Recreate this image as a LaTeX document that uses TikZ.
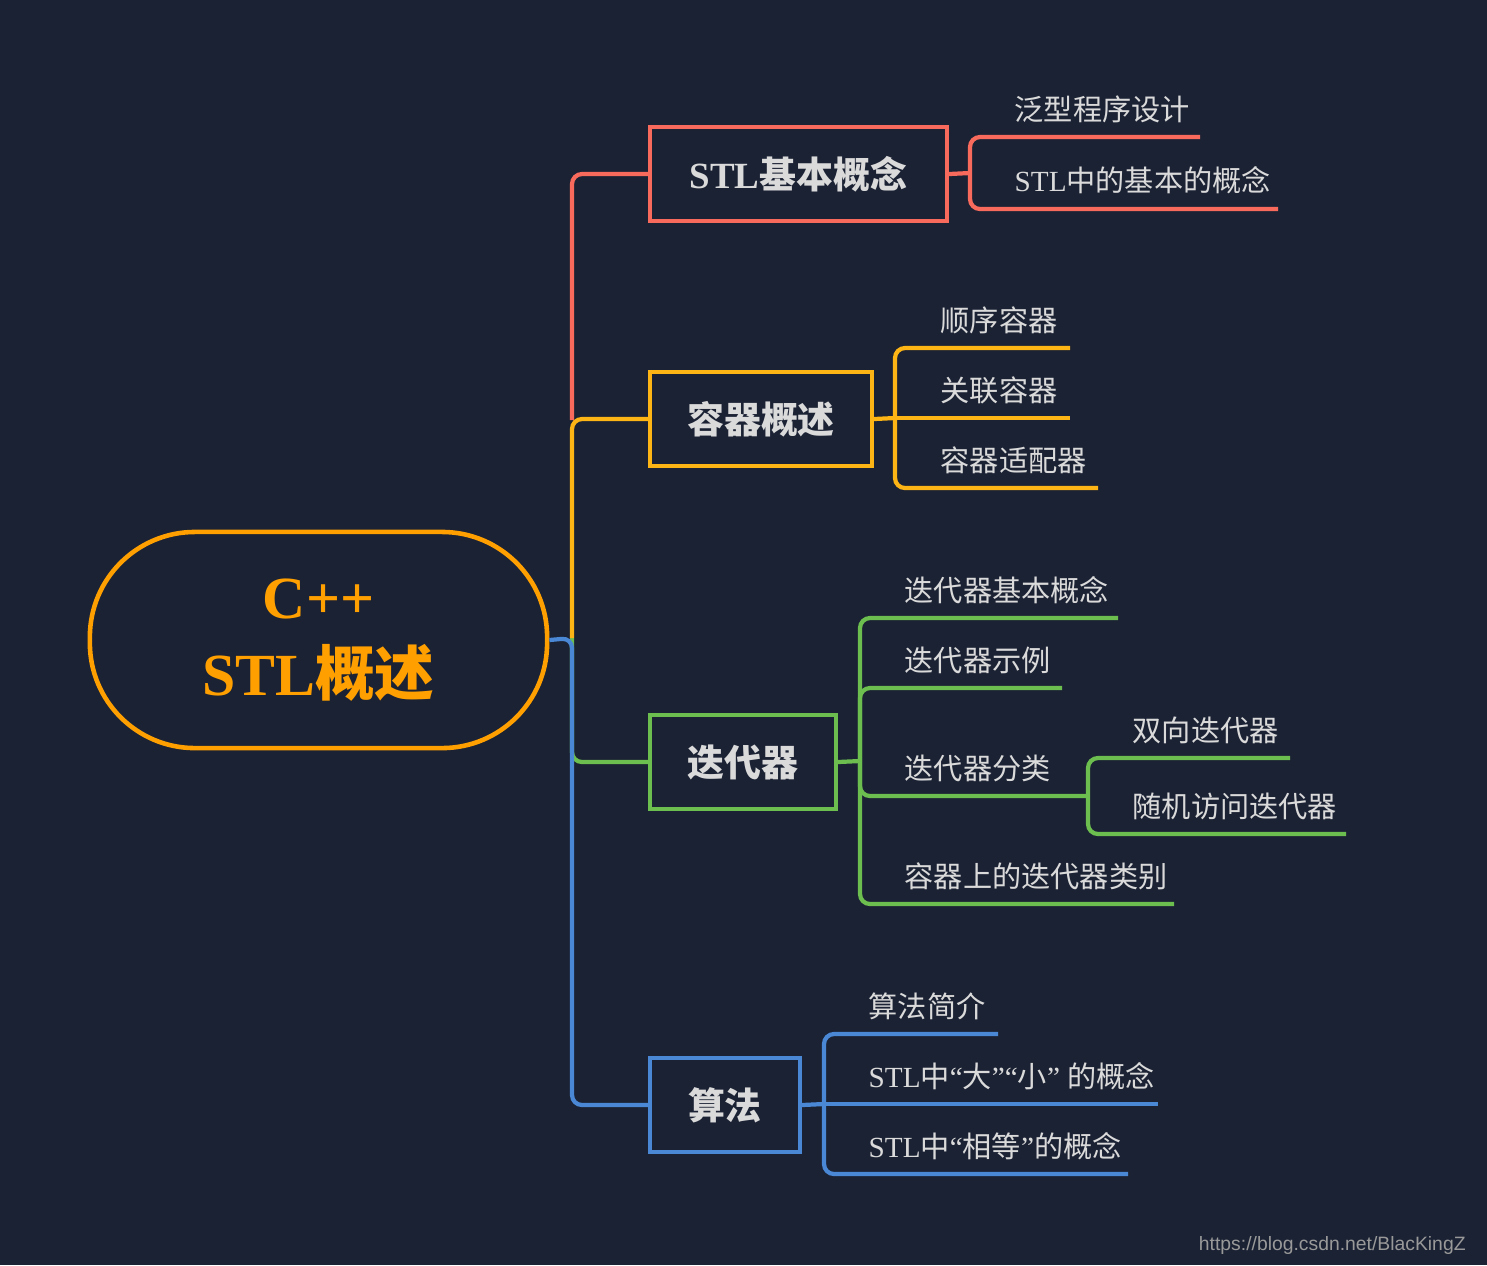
\documentclass[tikz,border=0pt]{standalone}
\usepackage{fontspec}
\setmainfont{Liberation Serif}
\newfontfamily\cjk{Noto Sans CJK SC}
\newfontfamily\marksans{Liberation Sans}
\newcommand{\zh}[1]{{\cjk #1}}
\usetikzlibrary{positioning}
\definecolor{bgc}{HTML}{1B2234}
\definecolor{redc}{HTML}{F76A5C}
\definecolor{yelc}{HTML}{FDB515}
\definecolor{grnc}{HTML}{6CBE4F}
\definecolor{bluc}{HTML}{4A88D6}
\definecolor{orgc}{HTML}{FFA000}
\definecolor{txtc}{HTML}{DADADA}
\tikzset{
  root/.style={draw=orgc, line width=1.3pt, rounded corners=1.05cm, minimum width=4.57cm, minimum height=2.16cm, align=center, text=orgc, font=\fontsize{17}{22}\selectfont\bfseries},
  topic/.style={draw=#1, line width=1.1pt, minimum height=0.94cm, anchor=west, text=txtc, font=\fontsize{10.5}{13}\selectfont\bfseries},
  leaf/.style={anchor=base west, inner sep=0pt, text=txtc, font=\fontsize{8.3}{10}\selectfont},
  link/.style={draw=#1, line width=1.2pt, rounded corners=0.1cm},
}
\begin{document}
\begin{tikzpicture}[x=0.01cm, y=-0.01cm]
  \fill[bgc] (0,0) rectangle (1487,1265);
  \useasboundingbox (0,0) rectangle (1487,1265);
  %Root
  \node[root] (root) at (318.5,640) {C++\\STL\zh{概述}};
  \coordinate (hub) at (572,638);
  %Topics
  \node[topic=redc, minimum width=2.97cm] (basic) at (648,174) {STL\zh{基本概念}};
  \node[topic=yelc, minimum width=2.22cm] (cont) at (648,419) {\zh{容器概述}};
  \node[topic=grnc, minimum width=1.86cm] (iter) at (648,762) {\zh{迭代器}};
  \node[topic=bluc, minimum width=1.50cm] (algo) at (648,1105) {\zh{算法}};
  %Trunk
  \draw[link=grnc] (hub) |- (iter.west);
  \draw[link=bluc] (root.east) -- (hub) |- (algo.west);
  \draw[link=yelc] (hub) |- (cont.west);
  \draw[link=redc] (572,420) |- (basic.west);
  %Basic concepts
  \coordinate (hr) at (970,173);
  \draw[link=redc] (basic.east) -- (hr);
  \coordinate (r1) at (1200,137);
  \coordinate (r2) at (1278,209);
  \draw[link=redc] (hr) |- (r1);
  \draw[link=redc] (hr) |- (r2);
  \node[leaf] (t11) at (1014,120) {\zh{泛型程序设计}};
  \node[leaf] (t12) at (1014,191) {STL\zh{中的基本的概念}};
  %Containers
  \coordinate (hy) at (895,418);
  \draw[link=yelc] (cont.east) -- (hy);
  \coordinate (y1) at (1070,348);
  \coordinate (y2) at (1070,418);
  \coordinate (y3) at (1098,488);
  \draw[link=yelc] (hy) |- (y1);
  \draw[link=yelc] (hy) -- (y2);
  \draw[link=yelc] (hy) |- (y3);
  \node[leaf] (t21) at (940,331) {\zh{顺序容器}};
  \node[leaf] (t22) at (940,401) {\zh{关联容器}};
  \node[leaf] (t23) at (940,471) {\zh{容器适配器}};
  %Iterators
  \coordinate (hg) at (860,761);
  \draw[link=grnc] (iter.east) -- (hg);
  \coordinate (g1) at (1118,618);
  \coordinate (g2) at (1062,688);
  \coordinate (g3) at (1088,796);
  \coordinate (g4) at (1174,904);
  \draw[link=grnc] (hg) |- (g1);
  \draw[link=grnc] (hg) |- (g2);
  \draw[link=grnc] (hg) |- (g3);
  \draw[link=grnc] (hg) |- (g4);
  \node[leaf] (t31) at (904,601) {\zh{迭代器基本概念}};
  \node[leaf] (t32) at (904,671) {\zh{迭代器示例}};
  \node[leaf] (t33) at (904,779) {\zh{迭代器分类}};
  \node[leaf] (t34) at (904,887) {\zh{容器上的迭代器类别}};
  \coordinate (s1) at (1290,758);
  \coordinate (s2) at (1346,834);
  \draw[link=grnc] (g3) |- (s1);
  \draw[link=grnc] (g3) |- (s2);
  \node[leaf] (t41) at (1132,741) {\zh{双向迭代器}};
  \node[leaf] (t42) at (1132,817) {\zh{随机访问迭代器}};
  %Algorithms
  \coordinate (hb) at (824,1104);
  \draw[link=bluc] (algo.east) -- (hb);
  \coordinate (b1) at (998,1034);
  \coordinate (b2) at (1158,1104);
  \coordinate (b3) at (1128,1174);
  \draw[link=bluc] (hb) |- (b1);
  \draw[link=bluc] (hb) -- (b2);
  \draw[link=bluc] (hb) |- (b3);
  \node[leaf] (t51) at (868,1017) {\zh{算法简介}};
  \node[leaf] (t52) at (868,1087) {STL\zh{中}“\zh{大}”“\zh{小}” \zh{的概念}};
  \node[leaf] (t53) at (868,1157) {STL\zh{中}“\zh{相等}”\zh{的概念}};
  %Watermark
  \node[anchor=east, text=gray!80, font=\fontsize{5.5}{7}\selectfont\marksans] (mark) at (1478,1245) {https://blog.csdn.net/BlacKingZ};
\end{tikzpicture}
\end{document}
